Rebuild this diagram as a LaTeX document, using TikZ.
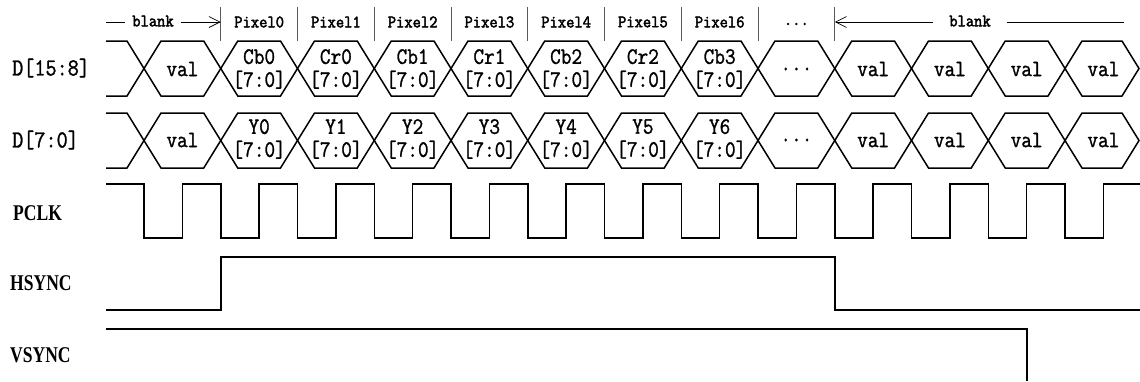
\documentclass[tikz,border=0pt]{standalone}
\usepackage{fontspec}
\setmainfont{Liberation Serif}
\newfontfamily\busmono[FakeStretch=0.88,FakeBold=1.2]{Latin Modern Mono}
\newfontfamily\pixmono[FakeStretch=0.92,FakeBold=2.4]{Latin Modern Mono}
\newfontfamily\signame[FakeStretch=0.78]{Liberation Serif}
\usetikzlibrary{arrows.meta}
\def\tdots{...}
\begin{document}
\begin{tikzpicture}[x=1pt,y=-1pt,
  wave/.style={line width=1.5pt, line join=miter},
  septick/.style={line width=0.9pt, draw=black!65},
  arrline/.style={line width=0.7pt},
  bustext/.style={font=\busmono\fontsize{23.5}{25}\selectfont, inner sep=0pt, align=center},
  rowlabel/.style={font=\busmono\fontsize{24.5}{26}\selectfont, inner sep=0pt, anchor=west},
  siglabel/.style={font=\signame\bfseries\fontsize{22.5}{24}\selectfont, inner sep=0pt, anchor=west},
  pixtext/.style={font=\pixmono\fontsize{17.5}{19}\selectfont, inner sep=0pt}]
\useasboundingbox (0,0) rectangle (1140,381);

% ---- row labels ----
\node[rowlabel] (lhi) at (12,68) {D[15:8]};
\node[rowlabel] (llo) at (12,140) {D[7:0]};
\node[siglabel] (lpclk) at (13,213) {PCLK};
\node[siglabel] (lhs) at (10,283) {HSYNC};
\node[siglabel] (lvs) at (10,355) {VSYNC};

% ---- bus rows ----
\foreach \yt/\yb in {41/96,113/168} {
  \pgfmathsetmacro\ym{(\yt+\yb)/2}
  \draw[wave] (106,\yt) -- (127,\yt) -- (144,\ym) -- (127,\yb) -- (106,\yb);
  \foreach \k in {0,...,11} {
    \pgfmathsetmacro\a{144+76.75*\k}
    \pgfmathsetmacro\b{\a+76.75}
    \draw[wave] (\a,\ym) -- (\a+17,\yt) -- (\b-17,\yt) -- (\b,\ym) -- (\b-17,\yb) -- (\a+17,\yb) -- cycle;
  }
  \draw[wave] (1065,\ym) -- (1082,\yt) -- (1122,\yt) -- (1139,\ym) -- (1122,\yb) -- (1082,\yb) -- cycle;
}

% ---- bus texts ----
\foreach \k/\t in {0/val,8/\tdots,9/val,10/val,11/val,12/val} {
  \node[bustext] (hv\k) at ({144+76.75*\k+38.4},69) {\t};
  \node[bustext] (lv\k) at ({144+76.75*\k+38.4},140) {\t};
}
\foreach \k/\t in {1/Cb0,2/Cr0,3/Cb1,4/Cr1,5/Cb2,6/Cr2,7/Cb3}
  \node[bustext] (hd\k) at ({144+76.75*\k+38.4},69) {\t\\[-2pt]\relax[7:0]};
\foreach \k/\t in {1/Y0,2/Y1,3/Y2,4/Y3,5/Y4,6/Y5,7/Y6}
  \node[bustext] (ld\k) at ({144+76.75*\k+38.4},139) {\t\\[-2pt]\relax[7:0]};

% ---- pixel header ----
\foreach \k in {1,...,9} {
  \coordinate (st\k) at ({144+76.75*\k},7);
  \coordinate (sb\k) at ({144+76.75*\k},41);
  \coordinate (sm\k) at ({144+76.75*\k},22);
  \draw[septick] (st\k) -- (sb\k);
}
\foreach \k/\t in {1/Pixel0,2/Pixel1,3/Pixel2,4/Pixel3,5/Pixel4,6/Pixel5,7/Pixel6}
  \node[pixtext] (px\k) at ({144+76.75*\k+38.4},22) {\t};
\node[pixtext] (px8) at ({144+76.75*8+38.4},24) {\tdots};

\coordinate (bl0) at (106,22);
\node[pixtext, inner xsep=7pt] (blankL) at (153,21) {blank};
\draw[arrline] (bl0) -- (blankL.west |- bl0);
\draw[arrline,-{Straight Barb[length=11pt,width=11pt]}] (blankL.east |- bl0) -- (sm1);

\coordinate (br0) at (1124,22);
\node[pixtext, inner xsep=16pt] (blankR) at (970,21) {blank};
\draw[arrline] (blankR.east |- br0) -- (br0);
\draw[arrline,-{Straight Barb[length=11pt,width=11pt]}] (blankR.west |- br0) -- (sm9);

% ---- PCLK ----
\draw[wave] (106,184)
  \foreach \k in {0,...,12} {
    -- ({144+76.75*\k},184) -- ({144+76.75*\k},238)
    -- ({144+76.75*\k+38.375},238) -- ({144+76.75*\k+38.375},184)
  } -- (1140,184);

% ---- HSYNC ----
\draw[wave] (106,310) -- (221,310) -- (221,257) -- (835,257) -- (835,310) -- (1140,310);

% ---- VSYNC ----
\draw[wave] (106,329) -- (1027,329) -- (1027,381);
\end{tikzpicture}
\end{document}
